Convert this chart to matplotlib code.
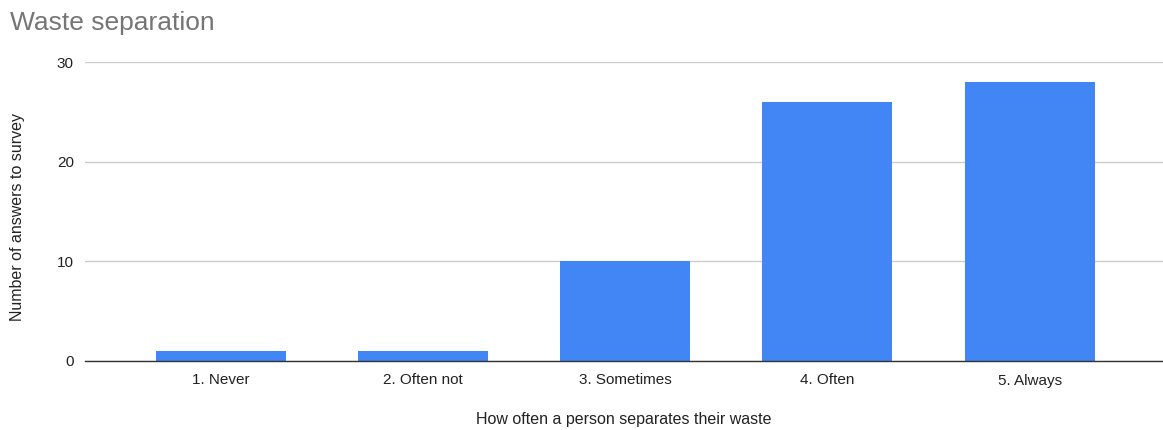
import matplotlib
matplotlib.use("Agg")
import matplotlib.pyplot as plt

categories = ["1. Never", "2. Often not", "3. Sometimes", "4. Often", "5. Always"]
values = [1, 1, 10, 26, 28]
yticks = [0, 10, 20, 30]

plt.rcParams['font.family'] = ['Liberation Sans', 'DejaVu Sans']

fig = plt.figure(figsize=(11.63, 4.30), dpi=100)
ax = fig.add_axes([85/1163, 1 - 361/430, 1 - 85/1163, (361 - 62)/430])

x = list(range(len(categories)))
ax.bar(x, values, width=0.643, color="#4285F4", zorder=3)

ax.set_xlim(-0.673, 4.66)
ax.set_ylim(0, 30)
ax.set_yticks(yticks)
ax.set_yticklabels([str(v) for v in yticks], fontsize=11, color="#222222")
ax.set_xticks(x)
ax.set_xticklabels(categories, fontsize=11, color="#222222")
ax.tick_params(axis="both", length=0)
ax.tick_params(axis="y", pad=8)
ax.tick_params(axis="x", pad=9)

ax.grid(axis="y", color="#cccccc", linewidth=1, zorder=0)
for s in ["top", "right", "left"]:
    ax.spines[s].set_visible(False)
ax.spines["bottom"].set_color("#333333")
ax.spines["bottom"].set_linewidth(1)
ax.spines["bottom"].set_zorder(4)

ax.set_ylabel("Number of answers to survey", fontsize=11.5, color="#222222")
ax.yaxis.set_label_coords(-60/1078, 0.48)
ax.set_xlabel("How often a person separates their waste", fontsize=11.5, color="#222222")
ax.xaxis.set_label_coords(0.5, -51/299)

fig.text(10/1163, 1 - 23/430, "Waste separation", fontsize=19, color="#757575",
         ha="left", va="center")

fig.savefig("out.png", dpi=100)
